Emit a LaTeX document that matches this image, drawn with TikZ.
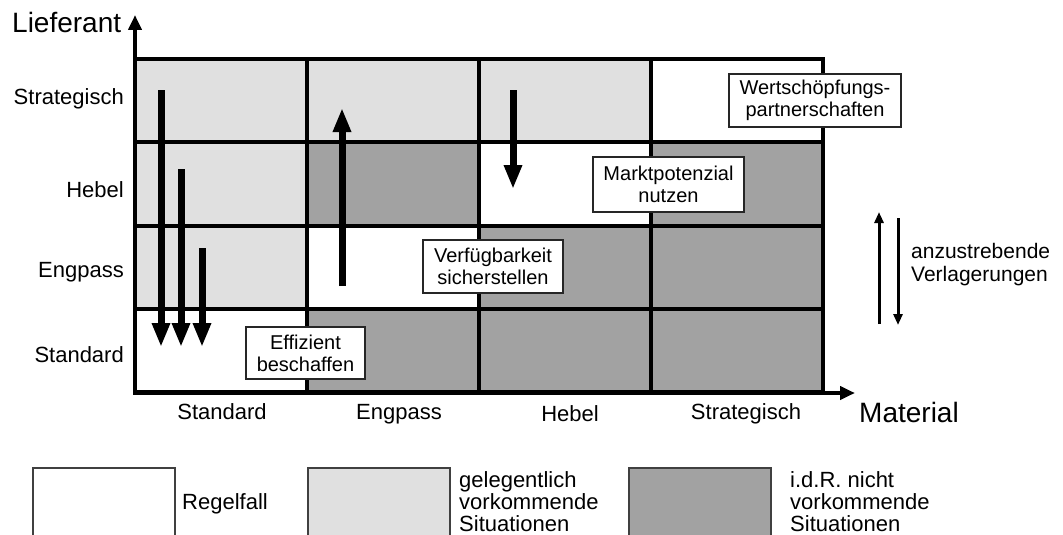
\documentclass[tikz,border=0pt]{standalone}
\usepackage{fontspec}
\setmainfont{Liberation Sans}
\usetikzlibrary{arrows.meta}
\definecolor{lightcell}{HTML}{E0E0E0}
\definecolor{darkcell}{HTML}{A2A2A2}
\begin{document}
\begin{tikzpicture}[x=1pt,y=-1pt,
  cell/.style={draw=black, line width=4pt, minimum width=172pt, minimum height=83.25pt,
    inner sep=0pt, outer sep=0pt, anchor=north west},
  axis/.style={line width=4.5pt, -{Triangle[length=15pt,width=13pt]}},
  bigarrow/.style={line width=7pt, -{Triangle[length=24pt,width=17pt]}},
  thinarrow/.style={line width=3pt, -{Triangle[length=11pt,width=9pt]}},
  tag/.style={font=\fontsize{22}{24}\selectfont, inner sep=0pt},
  bigtag/.style={font=\fontsize{28}{30}\selectfont, inner sep=0pt},
  labelbox/.style={draw=black!85, line width=1.5pt, fill=white, align=center,
    font=\fontsize{20}{22}\selectfont, inner sep=0pt},
  legendbox/.style={draw=black!75, line width=1.5pt, minimum width=142pt,
    minimum height=68pt, inner sep=0pt, anchor=north west},
  legendtext/.style={font=\fontsize{22}{24}\selectfont, inner sep=0pt, align=left}]
\useasboundingbox (0,0) rectangle (1063,535);

% matrix cells, rows from top (Strategisch) to bottom (Standard)
\node[cell, fill=lightcell] (s1) at (135,59) {};
\node[cell, fill=lightcell] (s2) at (307,59) {};
\node[cell, fill=lightcell] (s3) at (479,59) {};
\node[cell, fill=white]     (s4) at (651,59) {};
\node[cell, fill=lightcell] (h1) at (135,142.25) {};
\node[cell, fill=darkcell]  (h2) at (307,142.25) {};
\node[cell, fill=white]     (h3) at (479,142.25) {};
\node[cell, fill=darkcell]  (h4) at (651,142.25) {};
\node[cell, fill=lightcell] (e1) at (135,225.5) {};
\node[cell, fill=white]     (e2) at (307,225.5) {};
\node[cell, fill=darkcell]  (e3) at (479,225.5) {};
\node[cell, fill=darkcell]  (e4) at (651,225.5) {};
\node[cell, fill=white]     (t1) at (135,308.75) {};
\node[cell, fill=darkcell]  (t2) at (307,308.75) {};
\node[cell, fill=darkcell]  (t3) at (479,308.75) {};
\node[cell, fill=darkcell]  (t4) at (651,308.75) {};

% axes
\coordinate (origin) at (135,393);
\coordinate (ytip) at (135,15);
\coordinate (xstart) at (133,393);
\coordinate (xtip) at (855,393);
\draw[axis] (origin) -- (ytip);
\draw[axis] (xstart) -- (xtip);
\node[bigtag, anchor=base west] (ylab) at (12,33) {Lieferant};
\node[bigtag, anchor=base west] (xlab) at (859,422) {Material};

% supplier categories
\node[tag, anchor=base east] (lS) at (124,104) {Strategisch};
\node[tag, anchor=base east] (lH) at (124,197) {Hebel};
\node[tag, anchor=base east] (lE) at (124,277) {Engpass};
\node[tag, anchor=base east] (lT) at (124,362) {Standard};

% material categories
\node[tag, anchor=base] (mT) at (222,419) {Standard};
\node[tag, anchor=base] (mE) at (399,419) {Engpass};
\node[tag, anchor=base] (mH) at (570,421) {Hebel};
\node[tag, anchor=base] (mS) at (746,419) {Strategisch};

% strategy boxes
\node[labelbox, minimum width=119pt, minimum height=52pt] (eff) at (305.5,353) {Effizient\\beschaffen};
\node[labelbox, minimum width=140pt, minimum height=53pt] (verf) at (493,266.5) {Verfügbarkeit\\sicherstellen};
\node[labelbox, minimum width=151pt, minimum height=55pt] (markt) at (668.5,184.5) {Marktpotenzial\\nutzen};
\node[labelbox, minimum width=172pt, minimum height=53pt] (wert) at (815,100.5) {Wertschöpfungs-\\partnerschaften};

% shifts within the matrix
\coordinate (a1s) at (161,90);  \coordinate (a1e) at (161,347);
\coordinate (a2s) at (181,169); \coordinate (a2e) at (181,347);
\coordinate (a3s) at (202,248); \coordinate (a3e) at (202,347);
\coordinate (a4s) at (342,286); \coordinate (a4e) at (342,108);
\coordinate (a5s) at (513,90);  \coordinate (a5e) at (513,189);
\draw[bigarrow] (a1s) -- (a1e);
\draw[bigarrow] (a2s) -- (a2e);
\draw[bigarrow] (a3s) -- (a3e);
\draw[bigarrow] (a4s) -- (a4e);
\draw[bigarrow] (a5s) -- (a5e);

% key for the shifts
\coordinate (upS) at (879,324); \coordinate (upE) at (879,212);
\coordinate (dnS) at (898,218); \coordinate (dnE) at (898,325);
\draw[thinarrow] (upS) -- (upE);
\draw[thinarrow] (dnS) -- (dnE);
\node[legendtext, anchor=base west, font=\fontsize{21}{23}\selectfont] (shift) at (911,258)
  {anzustrebende};
\node[legendtext, anchor=base west, font=\fontsize{21}{23}\selectfont] (shift2) at (911,281)
  {Verlagerungen};

% legend
\node[legendbox, fill=white] (leg1) at (32,467) {};
\node[legendbox, fill=lightcell] (leg2) at (307,467) {};
\node[legendbox, fill=darkcell] (leg3) at (628,467) {};
\node[legendtext, anchor=base west] (txt1) at (182,509) {Regelfall};
\node[legendtext, anchor=base west] (txt2a) at (459,487) {gelegentlich};
\node[legendtext, anchor=base west] (txt2b) at (459,509) {vorkommende};
\node[legendtext, anchor=base west] (txt2c) at (459,531) {Situationen};
\node[legendtext, anchor=base west] (txt3a) at (790,487) {i.d.R. nicht};
\node[legendtext, anchor=base west] (txt3b) at (790,509) {vorkommende};
\node[legendtext, anchor=base west] (txt3c) at (790,531) {Situationen};
\end{tikzpicture}
\end{document}
